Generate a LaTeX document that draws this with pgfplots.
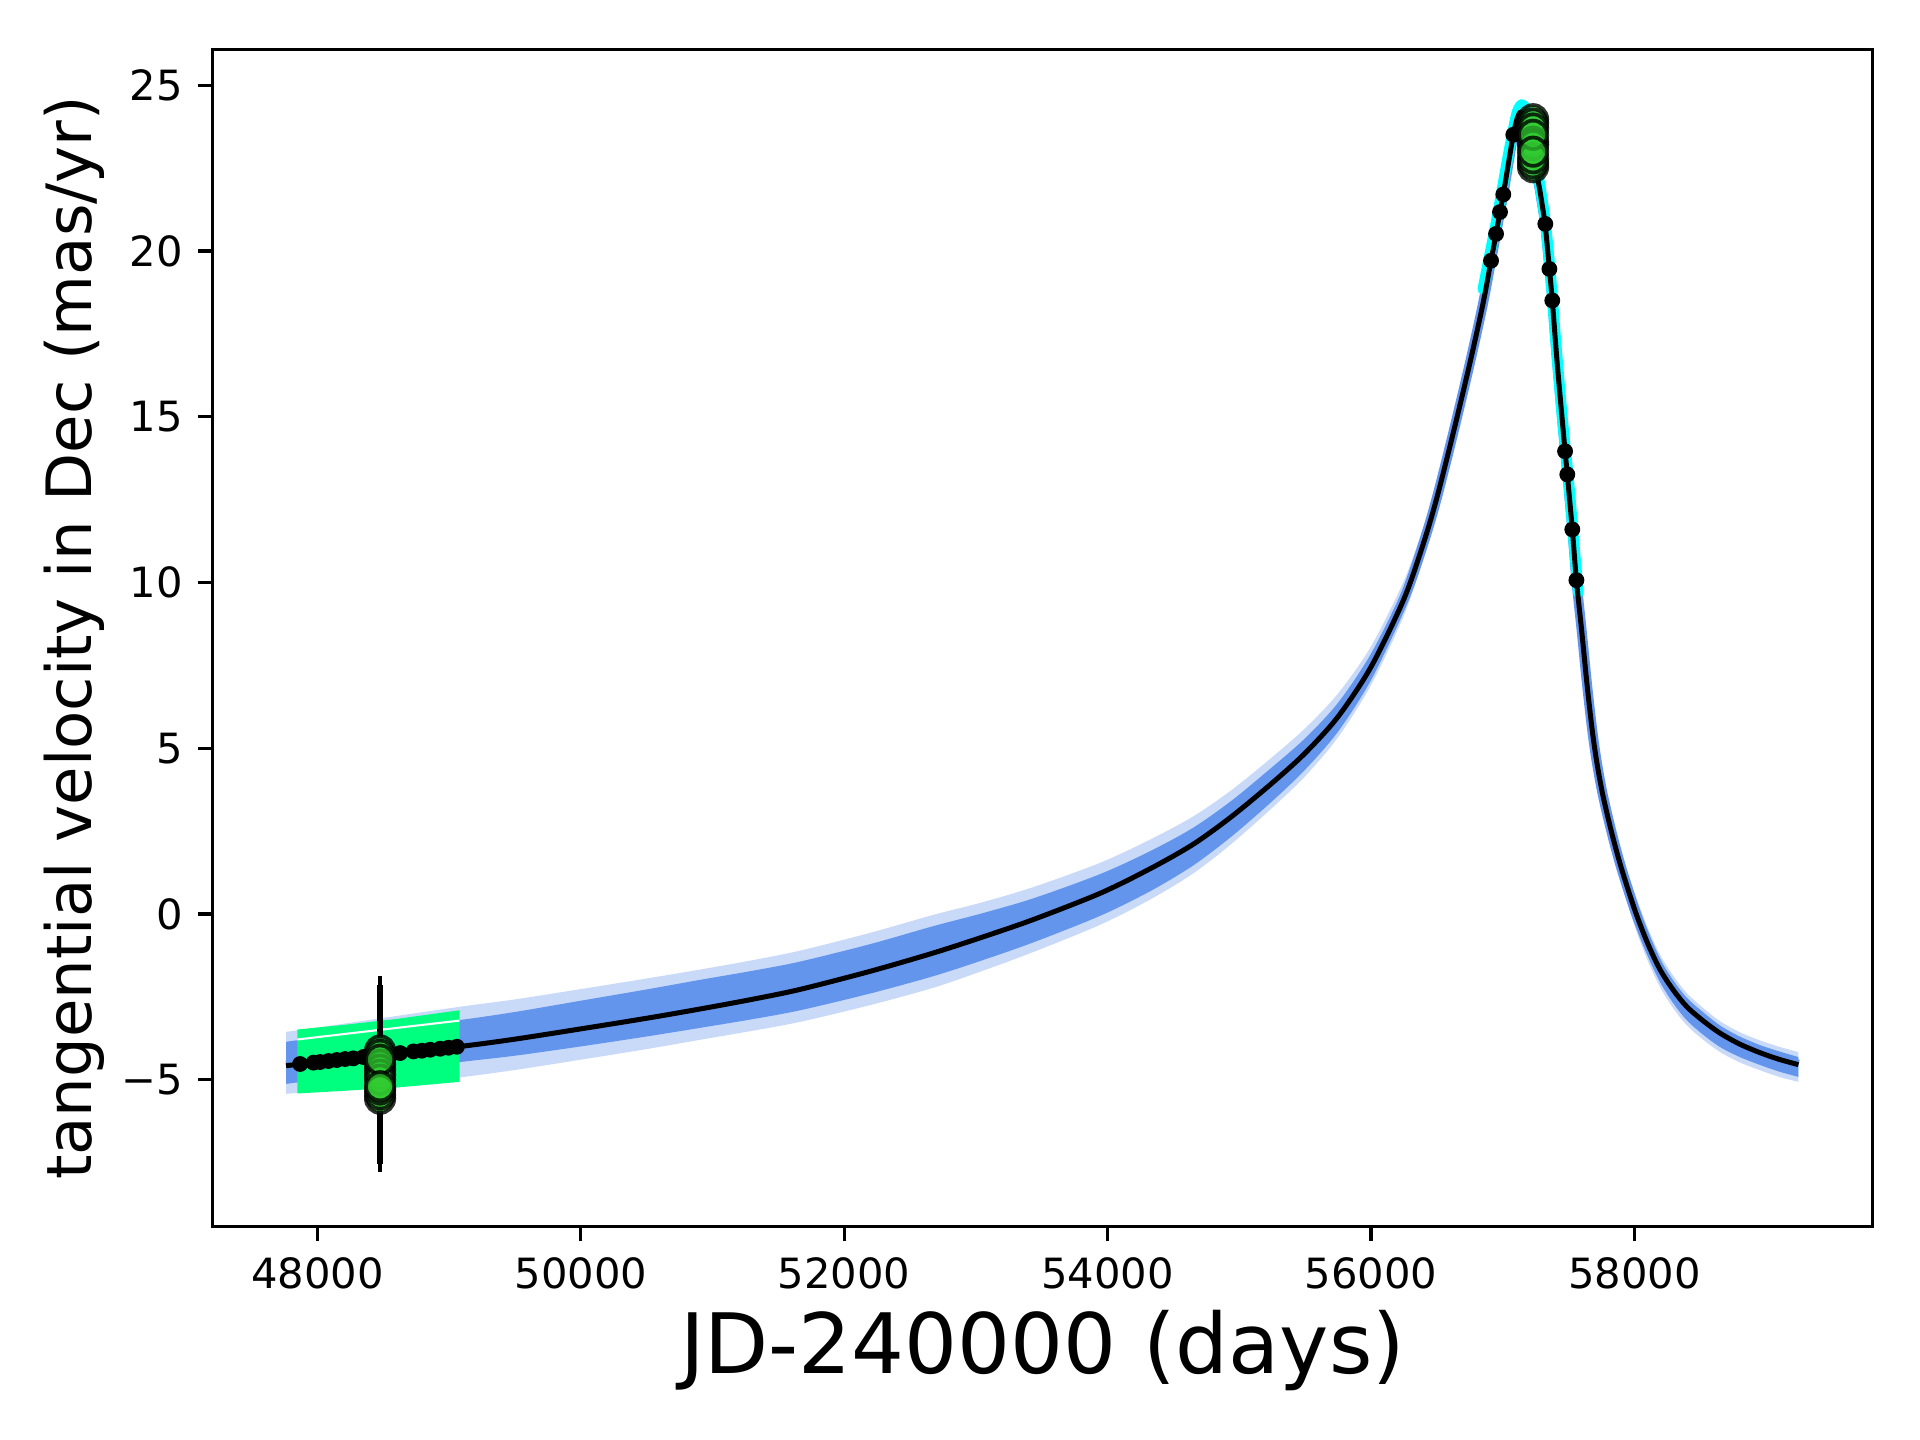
\documentclass[border=0pt]{standalone}
\usepackage{pgfplots}
\pgfplotsset{compat=1.18}
\usepackage{pgfplotstable}
\usepgfplotslibrary{fillbetween}
\usepackage{fontspec}
\setmainfont{DejaVu Sans}
\definecolor{cblue}{RGB}{100,149,237}
\definecolor{sgreen}{RGB}{0,255,127}
\definecolor{cyanc}{RGB}{0,255,255}
\definecolor{lgreen}{RGB}{50,205,50}

\pgfplotstableread{
x y ul uc lc ll
47762 -4.58 -3.56 -3.86 -5.13 -5.43
48000 -4.48 -3.43 -3.73 -5.01 -5.35
48500 -4.26 -3.14 -3.48 -4.76 -5.16
49087 -4.00 -2.80 -3.20 -4.47 -4.93
49500 -3.78 -2.58 -2.96 -4.28 -4.71
50000 -3.47 -2.27 -2.62 -4.00 -4.40
50500 -3.15 -1.95 -2.28 -3.70 -4.08
50906 -2.87 -1.68 -1.99 -3.44 -3.80
51300 -2.58 -1.40 -1.72 -3.18 -3.53
51664 -2.28 -1.11 -1.44 -2.91 -3.26
52200 -1.73 -0.57 -0.91 -2.40 -2.75
52677 -1.18 -0.03 -0.37 -1.88 -2.23
53050 -0.70 0.35 0.02 -1.40 -1.72
53437 -0.17 0.81 0.47 -0.86 -1.15
53943 0.62 1.54 1.20 -0.06 -0.33
54322 1.36 2.24 1.89 0.68 0.43
54650 2.10 2.94 2.60 1.46 1.22
54946 2.95 3.75 3.43 2.35 2.13
55250 3.95 4.73 4.43 3.40 3.20
55500 4.85 5.60 5.30 4.35 4.15
55750 5.95 6.65 6.37 5.50 5.33
56000 7.45 8.07 7.85 7.05 6.90
56250 9.50 10.05 9.85 9.15 9.00
56400 11.20 11.70 11.50 10.90 10.75
56500 12.55 13.00 12.85 12.25 12.15
56624 14.50 14.90 14.75 14.25 14.15
56750 16.60 16.90 16.80 16.40 16.30
56850 18.40 18.70 18.60 18.20 18.10
56912 19.71 20.00 19.90 19.50 19.40
56950 20.52 20.80 20.70 20.35 20.25
56980 21.18 21.45 21.35 21.00 20.90
57005 21.71 21.95 21.85 21.55 21.45
57040 22.55 22.75 22.68 22.42 22.35
57081 23.51 23.65 23.60 23.42 23.37
57110 24.00 24.08 24.05 23.95 23.92
57135 24.20 24.28 24.25 24.15 24.12
57160 24.10 24.18 24.15 24.05 24.02
57190 23.65 23.78 23.73 23.57 23.52
57230 22.85 23.05 22.98 22.72 22.65
57275 22.00 22.25 22.17 21.83 21.75
57300 21.40 21.70 21.60 21.20 21.10
57324 20.75 21.05 20.95 20.55 20.45
57355 19.46 19.76 19.66 19.26 19.16
57377 18.51 18.81 18.71 18.31 18.21
57415 16.58 16.88 16.78 16.38 16.28
57474 13.96 14.26 14.16 13.76 13.66
57491 13.26 13.56 13.46 13.06 12.96
57529 11.60 11.90 11.80 11.40 11.30
57560 10.07 10.37 10.27 9.87 9.77
57600 8.55 8.85 8.75 8.35 8.25
57640 6.95 7.25 7.15 6.75 6.65
57680 5.55 5.85 5.75 5.35 5.25
57714 4.60 4.90 4.80 4.40 4.30
57760 3.60 3.90 3.80 3.40 3.30
57828 2.45 2.80 2.70 2.20 2.10
57900 1.40 1.80 1.70 1.10 0.95
58005 0.10 0.60 0.45 -0.25 -0.40
58100 -0.88 -0.40 -0.54 -1.25 -1.40
58195 -1.68 -1.23 -1.37 -2.06 -2.21
58296 -2.30 -1.87 -2.01 -2.70 -2.85
58398 -2.80 -2.39 -2.53 -3.21 -3.36
58520 -3.22 -2.83 -2.96 -3.64 -3.79
58651 -3.60 -3.24 -3.37 -4.02 -4.17
58800 -3.93 -3.57 -3.70 -4.32 -4.48
58955 -4.19 -3.82 -3.96 -4.56 -4.72
59100 -4.39 -4.01 -4.15 -4.76 -4.92
59246 -4.55 -4.17 -4.32 -4.92 -5.07
}\fit

\begin{document}
\begin{tikzpicture}
\begin{axis}[
  scale only axis, width=398.4pt, height=282.5pt,
  xmin=47205, xmax=59810, ymin=-9.44, ymax=26.08,
  axis line style={line width=0.8pt},
  tick align=outside, major tick length=3.5pt,
  major tick style={line width=0.8pt, black},
  tick pos=left,
  scaled x ticks=false, scaled y ticks=false,
  xtick={48000,50000,52000,54000,56000,58000},
  xticklabels={48000,50000,52000,54000,56000,58000},
  ytick={-5,0,5,10,15,20,25},
  yticklabels={−5,0,5,10,15,20,25},
  ticklabel style={font=\fontsize{10}{12}\selectfont, inner sep=0pt},
  xticklabel style={anchor=base, yshift=-11.3pt},
  yticklabel style={anchor=east, xshift=-3.5pt},
  xlabel={JD-240000 (days)},
  ylabel={tangential velocity in Dec (mas/yr)},
  xlabel style={at={(axis description cs:0.5,-0.1246)}, anchor=base, font=\fontsize{20}{24}\selectfont, inner sep=0pt},
  ylabel style={at={(axis description cs:-0.0728,0.5)}, anchor=base, font=\fontsize{15}{18}\selectfont, inner sep=0pt},
  clip=true,
]
% light posterior band
\addplot[name path=ULt, draw=none, smooth] table[x=x,y=ul]{\fit};
\addplot[name path=LLt, draw=none, smooth] table[x=x,y=ll]{\fit};
\addplot[fill=cblue, fill opacity=0.35, draw=none] fill between[of=ULt and LLt];
% core posterior band
\addplot[name path=UCt, draw=none, smooth] table[x=x,y=uc]{\fit};
\addplot[name path=LCt, draw=none, smooth] table[x=x,y=lc]{\fit};
\addplot[fill=cblue, draw=none] fill between[of=UCt and LCt];
\addplot[cblue, line width=2.4pt, line join=round, smooth] table[x=x,y=y]{\fit};
% springgreen band (early epoch)
\addplot[fill=sgreen, draw=none] coordinates {(47848,-3.49) (48200,-3.35) (48600,-3.17) (49079,-2.91) (49079,-5.07) (48600,-5.24) (48200,-5.34) (47848,-5.42)} -- cycle;
\addplot[white, line width=0.5pt] coordinates {(47848,-3.79) (49079,-3.22)};
% cyan band (recent epoch)
\addplot[cyanc, line width=2.6pt, line join=round, line cap=round, smooth] coordinates {
(56850,18.85) (56900,19.85) (56950,20.85) (57000,21.95) (57050,23.05) (57090,23.85) (57115,24.25) (57145,24.42) (57175,24.30) (57205,23.85) (57240,23.00) (57280,22.05) (57320,21.00) (57360,19.45) (57400,17.45) (57450,15.10) (57500,13.10) (57540,11.25) (57575,9.70)};
% best fit
\addplot[black, line width=1.2pt, line join=round, smooth] table[x=x,y=y]{\fit};
% data points
\addplot[only marks, mark=*, mark size=1.7pt, black] coordinates {
(47869,-4.53) (47970,-4.49) (48021,-4.47) (48084,-4.44) (48147,-4.41) (48210,-4.38) (48273,-4.36) (48349,-4.32) (48420,-4.30) (48560,-4.23) (48628,-4.20) (48729,-4.15) (48793,-4.13) (48856,-4.10) (48932,-4.07) (48995,-4.04) (49059,-4.01)
(56912,19.71) (56950,20.52) (56980,21.18) (57005,21.71) (57081,23.51) (57324,20.82) (57355,19.46) (57377,18.51) (57474,13.96) (57491,13.26) (57529,11.60) (57560,10.07)};
% error bars
\addplot[black, line width=0.9pt] coordinates {(48476,-7.80) (48476,-1.86)};
\addplot[black, line width=1.5pt] coordinates {(48476,-7.55) (48476,-2.15)};
% green markers
\addplot[only marks, mark=*, mark size=3.4pt, mark options={fill=lgreen, fill opacity=0.7, draw=black, draw opacity=0.8, line width=0.9pt}] coordinates {
(48476,-4.12) (48476,-5.58) (48476,-4.25) (48476,-5.45) (48476,-4.55) (48476,-4.70) (48476,-4.85) (48476,-5.00) (48476,-5.30) (48476,-4.40) (48476,-5.20)
(57231,23.98) (57231,22.53) (57231,23.85) (57231,22.65) (57231,23.70) (57231,23.30) (57231,23.20) (57231,22.80) (57231,23.51) (57231,23.00)};
\end{axis}
\pgfresetboundingbox
\path (-51.05pt,-51.19pt) rectangle (409.75pt,294.41pt);
\end{tikzpicture}
\end{document}
